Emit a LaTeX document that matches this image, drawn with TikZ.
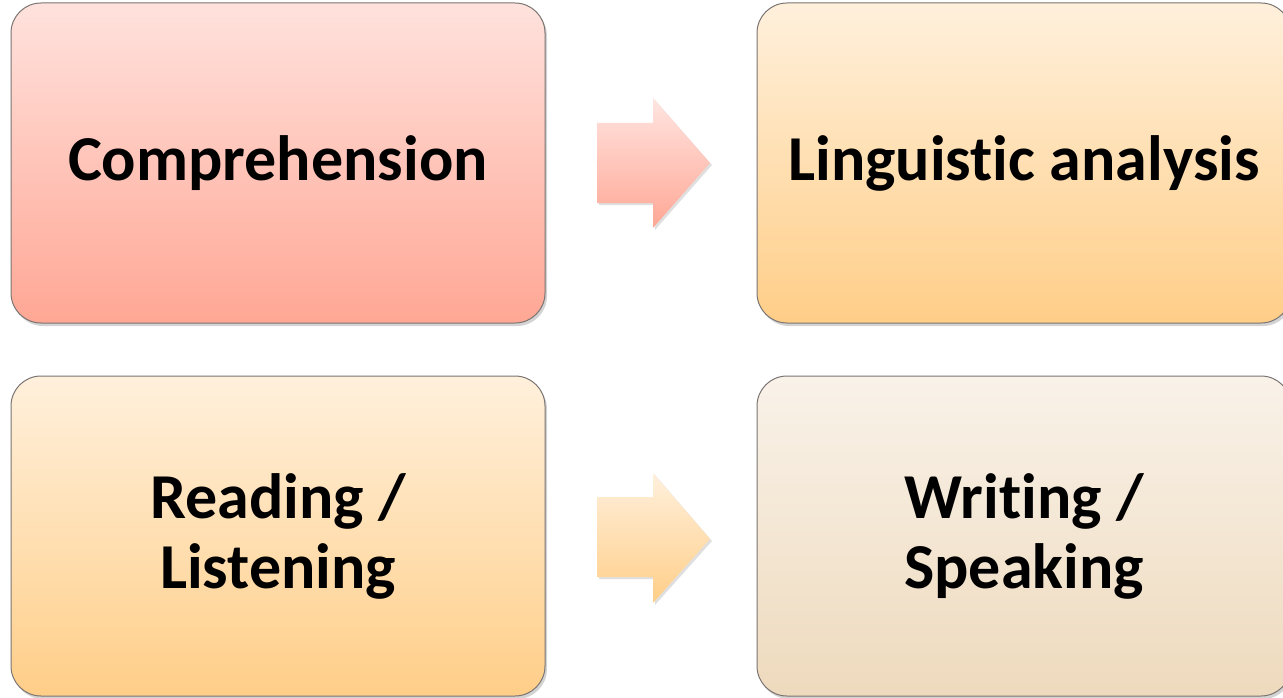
\documentclass[tikz,border=0pt]{standalone}
\usepackage{fontspec}
\setmainfont{Carlito}[Ligatures=NoCommon]
\usetikzlibrary{shadows,positioning}
\definecolor{rtop}{HTML}{FFE2DD}
\definecolor{rbot}{HTML}{FFA795}
\definecolor{otop}{HTML}{FFF0DC}
\definecolor{obot}{HTML}{FFCE88}
\definecolor{btop}{HTML}{F9F2E9}
\definecolor{bbot}{HTML}{EEDABD}
\definecolor{edge}{HTML}{7A7472}
\tikzset{
  card/.style={draw=edge, line width=1pt, rounded corners=30pt,
    minimum width=534pt, minimum height=320pt, inner sep=0pt,
    align=center, font=\bfseries\fontsize{64}{70}\selectfont,
    drop shadow={shadow xshift=2pt, shadow yshift=-3pt, opacity=0.35, fill=gray}},
  redcard/.style={card, top color=rtop, bottom color=rbot},
  orcard/.style={card, top color=otop, bottom color=obot},
  beigecard/.style={card, top color=btop, bottom color=bbot},
  arrowshape/.style={drop shadow={shadow xshift=2pt, shadow yshift=-2pt, opacity=0.25, fill=gray}}
}
\begin{document}
\begin{tikzpicture}[x=1pt,y=-1pt]
\useasboundingbox (0,0) rectangle (1283,698);
\node[redcard] (comp) at (278,163) {Comprehension};
\node[orcard] (ling) at (1024,163) {Linguistic analysis};
\node[orcard] (read) at (278,536) {Reading /\\Listening};
\node[beigecard] (writ) at (1024,536) {Writing /\\Speaking};
\coordinate (a1) at (597,163);
\coordinate (a2) at (597,539);
\shade[arrowshape, top color=rtop!90!white, bottom color=rbot]
  (a1) ++(0,-40) -- ++(56,0) -- ++(0,-25) -- (710,163) -- (653,228) -- ++(0,-25) -- (597,203) -- cycle;
\shade[arrowshape, top color=otop, bottom color=obot]
  (a2) ++(0,-42) -- ++(56,0) -- ++(0,-24) -- (710,539) -- (653,603) -- ++(0,-26) -- (597,577) -- cycle;
\end{tikzpicture}
\end{document}
